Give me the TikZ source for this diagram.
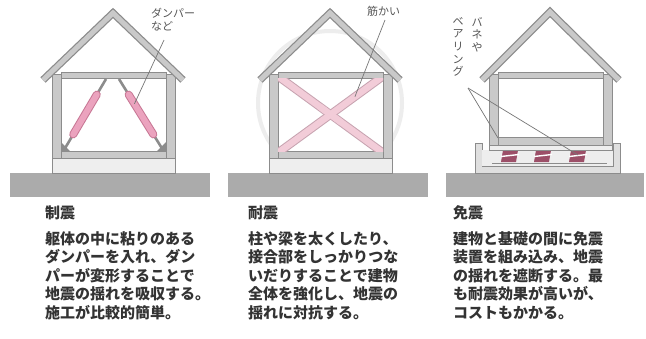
\documentclass[tikz,border=0pt]{standalone}
\usepackage{fontspec}
\usetikzlibrary{calc}
\newfontfamily\jp{Noto Sans CJK JP}
\definecolor{memberline}{HTML}{8C8C8C}
\definecolor{memberfill}{HTML}{C9C9C9}
\definecolor{groundgray}{HTML}{ABABAB}
\definecolor{foundfill}{HTML}{EEEEEE}
\definecolor{damperpink}{HTML}{EBA3BE}
\definecolor{damperedge}{HTML}{C77794}
\definecolor{bracepink}{HTML}{F2CCD8}
\definecolor{braceedge}{HTML}{C7A3B0}
\definecolor{bearing}{HTML}{9C4F68}
\definecolor{inktext}{HTML}{333333}
\definecolor{labeltext}{HTML}{555555}
\begin{document}
\begin{tikzpicture}[x=1pt,y=-1pt,
  member/.style={fill=memberfill,draw=memberline,line width=0.8pt},
  found/.style={fill=foundfill,draw=memberline,line width=0.7pt},
  ground/.style={fill=groundgray},
  roofout/.style={draw=memberline,line width=7.5pt,line join=miter},
  roofin/.style={draw=memberfill,line width=5pt,line join=miter},
  leader/.style={draw=labeltext!80,line width=0.7pt},
  lbl/.style={font=\jp\fontsize{11}{12.5}\selectfont,text=labeltext,inner sep=0pt},
  vlbl/.style={lbl,align=center,font=\jp\fontsize{11}{12.6}\selectfont},
  title/.style={font=\jp\bfseries\fontsize{15}{18}\selectfont,text=inktext,inner sep=0pt,anchor=west},
  body/.style={font=\jp\bfseries\fontsize{15}{18.5}\selectfont,text=inktext,inner sep=0pt,align=left,anchor=north west},
]
\useasboundingbox (0,0) rectangle (646,338);
\fill[white] (0,0) rectangle (646,338);

% sway halo behind the braced frame
\draw[gray!14,line width=4pt] (330,103) circle (72);

% ground slabs
\fill[ground] (10,173) rectangle (210,197);
\fill[ground] (228,173) rectangle (428,197);
\fill[ground] (446,173) rectangle (644,197);

% ---------- 制震 : frame with dampers ----------
\begin{scope}
  \draw[member] (52,74) rectangle (61,158);
  \draw[member] (166,74) rectangle (175,158);
  \draw[member] (61,72) rectangle (166,78);
  \draw[member] (61,151) rectangle (166,158);
  \draw[found] (52,158) rectangle (175,173);
  % corner brackets
  \fill[memberline] (61,151) -- (70,151) -- (61,142) -- cycle;
  \fill[memberline] (166,151) -- (157,151) -- (166,142) -- cycle;
  % damper rods
  \coordinate (dl0) at (64,150); \coordinate (dl1) at (106,79);
  \coordinate (dr0) at (119,79); \coordinate (dr1) at (163,150);
  \draw[memberline,line width=2.6pt] (dl0) -- (dl1);
  \draw[memberline,line width=2.6pt] (dr0) -- (dr1);
  \draw[damperedge,line width=8pt,line cap=round] ($(dl0)!0.22!(dl1)$) -- ($(dl0)!0.78!(dl1)$);
  \draw[damperpink,line width=6pt,line cap=round] ($(dl0)!0.22!(dl1)$) -- ($(dl0)!0.78!(dl1)$);
  \draw[damperedge,line width=8pt,line cap=round] ($(dr0)!0.22!(dr1)$) -- ($(dr0)!0.78!(dr1)$);
  \draw[damperpink,line width=6pt,line cap=round] ($(dr0)!0.22!(dr1)$) -- ($(dr0)!0.78!(dr1)$);
  \coordinate (damperpt) at ($(dr0)!0.35!(dr1)$);
  \draw[roofout] (43,80) -- (113,13) -- (183,80);
  \draw[roofin] (43,80) -- (113,13) -- (183,80);
\end{scope}
\node[lbl,anchor=north west,align=left] (damperlbl) at (151,8) {ダンパー\\など};
\coordinate (damperfoot) at (164,40);
\draw[leader] (damperfoot) -- (damperpt);

% ---------- 耐震 : braced frame ----------
\begin{scope}[xshift=217pt]
  \fill[white] (52,74) rectangle (175,158);
  \draw[member] (52,74) rectangle (61,158);
  \draw[member] (166,74) rectangle (175,158);
  \draw[member] (61,72) rectangle (166,78);
  \draw[member] (61,151) rectangle (166,158);
  \draw[found] (52,158) rectangle (175,173);
  \coordinate (b1s) at (58,74); \coordinate (b1e) at (169,155);
  \coordinate (b2s) at (58,155); \coordinate (b2e) at (169,74);
  \begin{scope}
    \clip (61,78) rectangle (166,151);
    \draw[braceedge,line width=8.5pt] (b1s) -- (b1e);
    \draw[bracepink,line width=6.5pt] (b1s) -- (b1e);
    \draw[braceedge,line width=8.5pt] (b2s) -- (b2e);
    \draw[bracepink,line width=6.5pt] (b2s) -- (b2e);
    \draw[bracepink,line width=6.5pt] ($(b1s)!0.4!(b1e)$) -- ($(b1s)!0.6!(b1e)$);
  \end{scope}
  \coordinate (bracept) at ($(b2s)!0.72!(b2e)$);
  \draw[roofout] (43,80) -- (113,13) -- (183,80);
  \draw[roofin] (43,80) -- (113,13) -- (183,80);
\end{scope}
\node[lbl,anchor=north west] (bracelbl) at (367,6) {筋かい};
\coordinate (bracefoot) at (385,20);
\draw[leader] (bracefoot) -- (bracept);

% ---------- 免震 : isolated frame ----------
\begin{scope}[xshift=437pt]
  % isolation trough
  \draw[found,fill=memberfill!60] (38,143) -- (38,173) -- (183,173) -- (183,143)
    -- (176,143) -- (176,166) -- (45,166) -- (45,143) -- cycle;
  \fill[foundfill] (45,150) rectangle (176,166);
  \draw[memberline,line width=0.7pt] (55,163) -- (170,163);
  % bearings
  \foreach \bx in {73,106,141}{
    \fill[bearing] (\bx-7,150) -- (\bx+8,150) -- (\bx+6,162) -- (\bx-9,162) -- cycle;
    \draw[white,line width=1.4pt] (\bx-9,156.5) -- (\bx+9,154.5);
  }
  \coordinate (bearpt) at (141,155);
  % frame
  \draw[member] (52,74) rectangle (61,145);
  \draw[member] (166,74) rectangle (175,145);
  \draw[member] (61,72) rectangle (166,78);
  \draw[member] (61,137) rectangle (166,145);
  \draw[found] (52,145) rectangle (175,150);
  \coordinate (springpt) at (61,138);
  \draw[roofout] (45,80) -- (113,12) -- (182,80);
  \draw[roofin] (45,80) -- (113,12) -- (182,80);
\end{scope}
\node[vlbl,anchor=north] (isolbl1) at (477,17) {バ\\ネ\\や};
\node[vlbl,anchor=north] (isolbl2) at (458,17) {ベ\\ア\\リ\\ン\\グ};
\coordinate (isofoot) at (468,88);
\draw[leader] (isofoot) -- (springpt);
\draw[leader] (isofoot) -- (bearpt);

% ---------- captions ----------
\node[title] (t1) at (45,213) {制震};
\node[body] (c1) at (45,231) {躯体の中に粘りのある\\ダンパーを入れ、ダン\\パーが変形することで\\地震の揺れを吸収する。\\施工が比較的簡単。};
\node[title] (t2) at (248,213) {耐震};
\node[body] (c2) at (248,231) {柱や梁を太くしたり、\\接合部をしっかりつな\\いだりすることで建物\\全体を強化し、地震の\\揺れに対抗する。};
\node[title] (t3) at (453,213) {免震};
\node[body] (c3) at (453,231) {建物と基礎の間に免震\\装置を組み込み、地震\\の揺れを遮断する。最\\も耐震効果が高いが、\\コストもかかる。};
\end{tikzpicture}
\end{document}
